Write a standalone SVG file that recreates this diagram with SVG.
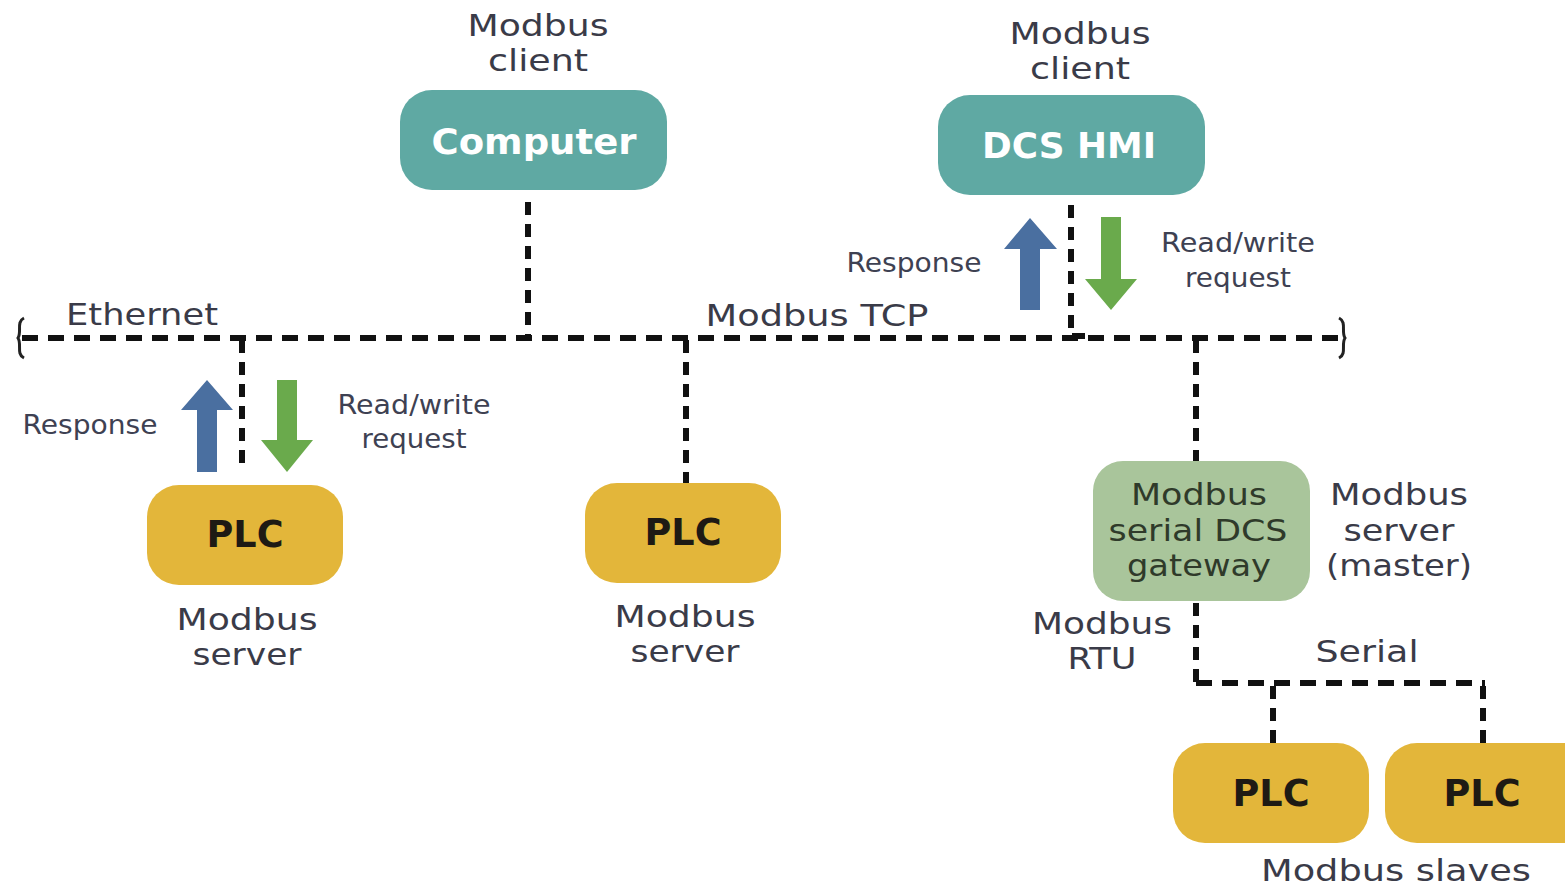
<svg xmlns="http://www.w3.org/2000/svg" width="1565" height="888" viewBox="0 0 1565 888">
<style>
.bg{fill:#ffffff}
.teal{fill:#5fa9a3}
.plc{fill:#e3b63a}
.gw{fill:#a9c59b}
.lbl{font-family:"DejaVu Sans","Liberation Sans",sans-serif;font-size:30px;fill:#3a3b48;text-anchor:middle}
.sm{font-family:"DejaVu Sans","Liberation Sans",sans-serif;font-size:27px;fill:#3e4152;text-anchor:middle}
.nodew{font-family:"DejaVu Sans","Liberation Sans",sans-serif;font-weight:bold;font-size:36px;fill:#ffffff;text-anchor:middle}
.nodeb{font-family:"DejaVu Sans","Liberation Sans",sans-serif;font-weight:bold;font-size:37px;fill:#1e1a14;text-anchor:middle}
.gwt{font-family:"DejaVu Sans","Liberation Sans",sans-serif;font-size:30px;fill:#2f3a2a;text-anchor:middle}
.dh{fill:none;stroke:#111111;stroke-width:6;stroke-dasharray:16 10}
.dv{fill:none;stroke:#111111;stroke-width:6;stroke-dasharray:13 9}
.brace{fill:none;stroke:#222222;stroke-width:3}
.up{fill:#4a6fa0}
.down{fill:#6aaa4c}
</style>
<rect class="bg" x="0" y="0" width="1565" height="888"/>

<g id="connectors">
  <path class="dh" d="M22 338 H1343"/>
  <path class="brace" d="M24 318 C16 322 22 332 18 338 C22 344 16 354 24 358"/>
  <path class="brace" d="M1339 318 C1347 322 1341 332 1345 338 C1341 344 1347 354 1339 358"/>
  <path class="dv" d="M528 202 V338"/>
  <path class="dv" d="M1071 205 V336 H1090"/>
  <path class="dv" d="M242 340 V472"/>
  <path class="dv" d="M686 340 V483"/>
  <path class="dv" d="M1196 340 V461"/>
  <path class="dv" d="M1196 603 V683"/>
  <path class="dh" d="M1196 683 H1485"/>
  <path class="dv" d="M1273 686 V743"/>
  <path class="dv" d="M1483 686 V743"/>
</g>

<g id="arrows">
  <polygon class="up" points="207,380 233,410 217,410 217,472 197,472 197,410 181,410"/>
  <polygon class="down" points="287,472 313,440 297,440 297,380 277,380 277,440 261,440"/>
  <polygon class="up" points="1030,218 1057,249 1040,249 1040,310 1020,310 1020,249 1004,249"/>
  <polygon class="down" points="1111,310 1137,279 1121,279 1121,217 1101,217 1101,279 1085,279"/>
</g>

<g id="computer">
  <rect class="teal" x="400" y="90" width="267" height="100" rx="32"/>
  <text class="nodew" x="534" y="154" textLength="205" lengthAdjust="spacingAndGlyphs">Computer</text>
  <text class="lbl" x="538" y="36" textLength="141" lengthAdjust="spacingAndGlyphs">Modbus</text>
  <text class="lbl" x="538" y="71" textLength="100" lengthAdjust="spacingAndGlyphs">client</text>
</g>

<g id="dcs-hmi">
  <rect class="teal" x="938" y="95" width="267" height="100" rx="32"/>
  <text class="nodew" x="1069" y="158" textLength="174" lengthAdjust="spacingAndGlyphs">DCS HMI</text>
  <text class="lbl" x="1080" y="44" textLength="141" lengthAdjust="spacingAndGlyphs">Modbus</text>
  <text class="lbl" x="1080" y="79" textLength="100" lengthAdjust="spacingAndGlyphs">client</text>
</g>

<g id="plc-left">
  <rect class="plc" x="147" y="485" width="196" height="100" rx="32"/>
  <text class="nodeb" x="245" y="547" textLength="77" lengthAdjust="spacingAndGlyphs">PLC</text>
  <text class="lbl" x="247" y="630" textLength="141" lengthAdjust="spacingAndGlyphs">Modbus</text>
  <text class="lbl" x="247" y="665" textLength="109" lengthAdjust="spacingAndGlyphs">server</text>
</g>

<g id="plc-middle">
  <rect class="plc" x="585" y="483" width="196" height="100" rx="32"/>
  <text class="nodeb" x="683" y="545" textLength="77" lengthAdjust="spacingAndGlyphs">PLC</text>
  <text class="lbl" x="685" y="627" textLength="141" lengthAdjust="spacingAndGlyphs">Modbus</text>
  <text class="lbl" x="685" y="662" textLength="109" lengthAdjust="spacingAndGlyphs">server</text>
</g>

<g id="gateway">
  <rect class="gw" x="1093" y="461" width="217" height="140" rx="30"/>
  <text class="gwt" x="1199" y="505" textLength="136" lengthAdjust="spacingAndGlyphs">Modbus</text>
  <text class="gwt" x="1198" y="541" textLength="179" lengthAdjust="spacingAndGlyphs">serial DCS</text>
  <text class="gwt" x="1199" y="576" textLength="144" lengthAdjust="spacingAndGlyphs">gateway</text>
  <text class="lbl" x="1399" y="505" textLength="138" lengthAdjust="spacingAndGlyphs">Modbus</text>
  <text class="lbl" x="1399" y="541" textLength="111" lengthAdjust="spacingAndGlyphs">server</text>
  <text class="lbl" x="1399" y="576" textLength="146" lengthAdjust="spacingAndGlyphs">(master)</text>
</g>

<g id="plc-slave-1">
  <rect class="plc" x="1173" y="743" width="196" height="100" rx="32"/>
  <text class="nodeb" x="1271" y="806" textLength="77" lengthAdjust="spacingAndGlyphs">PLC</text>
</g>

<g id="plc-slave-2">
  <rect class="plc" x="1385" y="743" width="210" height="100" rx="32"/>
  <text class="nodeb" x="1482" y="806" textLength="77" lengthAdjust="spacingAndGlyphs">PLC</text>
</g>

<g id="labels">
  <text class="lbl" x="142" y="325" textLength="152" lengthAdjust="spacingAndGlyphs">Ethernet</text>
  <text class="lbl" x="817" y="326" textLength="223" lengthAdjust="spacingAndGlyphs">Modbus TCP</text>
  <text class="sm" x="90" y="434" textLength="135" lengthAdjust="spacingAndGlyphs">Response</text>
  <text class="sm" x="414" y="414" textLength="153" lengthAdjust="spacingAndGlyphs">Read/write</text>
  <text class="sm" x="414" y="448" textLength="105" lengthAdjust="spacingAndGlyphs">request</text>
  <text class="sm" x="914" y="272" textLength="135" lengthAdjust="spacingAndGlyphs">Response</text>
  <text class="sm" x="1238" y="252" textLength="154" lengthAdjust="spacingAndGlyphs">Read/write</text>
  <text class="sm" x="1238" y="287" textLength="106" lengthAdjust="spacingAndGlyphs">request</text>
  <text class="lbl" x="1102" y="634" textLength="140" lengthAdjust="spacingAndGlyphs">Modbus</text>
  <text class="lbl" x="1102" y="669" textLength="69" lengthAdjust="spacingAndGlyphs">RTU</text>
  <text class="lbl" x="1367" y="662" textLength="103" lengthAdjust="spacingAndGlyphs">Serial</text>
  <text class="lbl" x="1396" y="881" textLength="270" lengthAdjust="spacingAndGlyphs">Modbus slaves</text>
</g>
</svg>
